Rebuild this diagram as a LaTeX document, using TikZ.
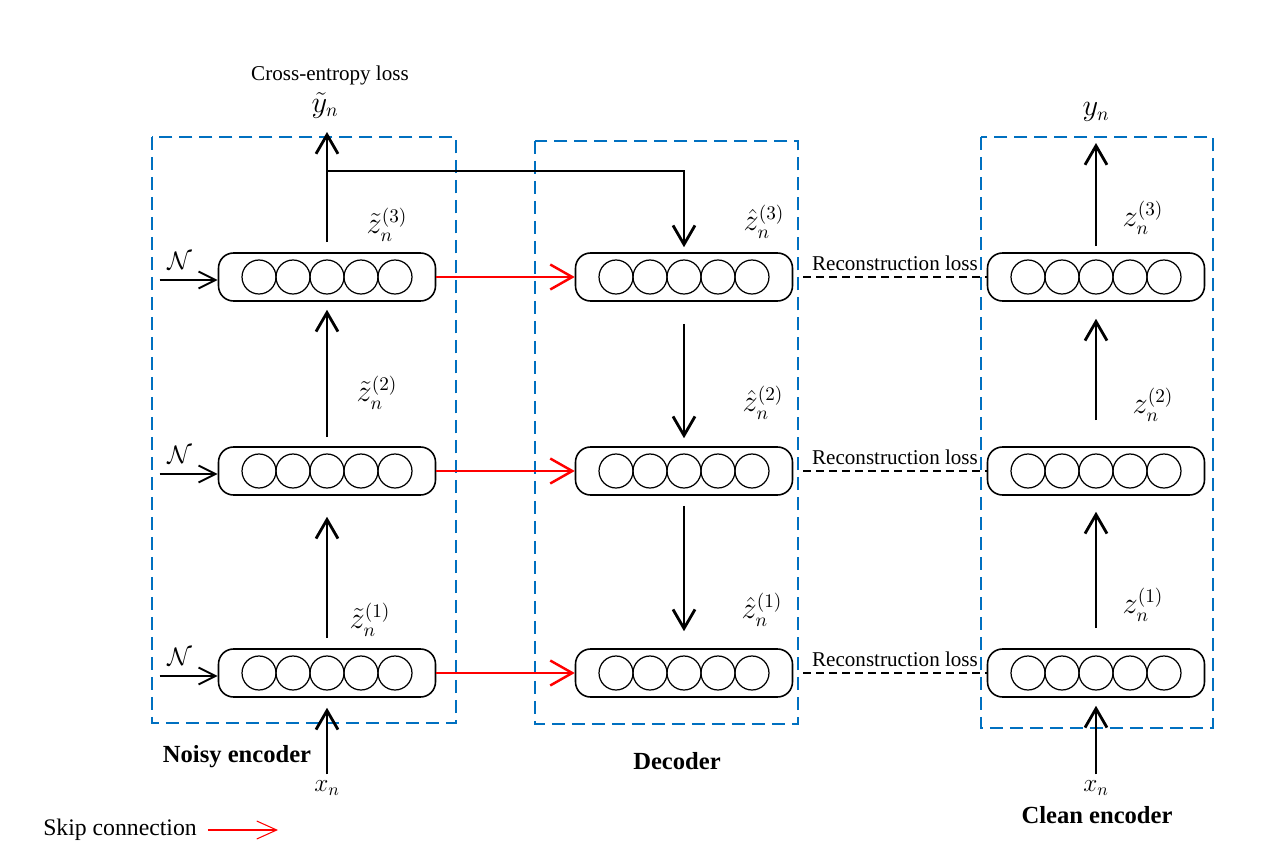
\documentclass[tikz,border=0pt]{standalone}
\usepackage{fontspec}
\setmainfont{Liberation Serif}
\usepackage{amsmath}
\usepackage{amssymb}
\usetikzlibrary{arrows.meta}
\definecolor{boxblue}{RGB}{0,112,192}
\tikzset{layer/.style={draw, rounded corners=0.3cm, minimum width=4.34cm, minimum height=0.96cm, line width=0.9pt}}
\tikzset{groupbox/.style={draw=boxblue, dash pattern=on 0.26cm off 0.14cm, line width=1.1pt}}
\tikzset{up/.style={-{Straight Barb[length=0.38cm,width=0.44cm]}, line width=1.6pt}}
\tikzset{skip/.style={-{Straight Barb[length=0.44cm,width=0.5cm]}, draw=red, line width=1.4pt}}
\tikzset{noise/.style={-{Straight Barb[length=0.34cm,width=0.34cm]}, line width=1.1pt}}
\tikzset{recon/.style={dash pattern=on 0.16cm off 0.1cm, line width=0.7pt}}
\tikzset{lbl/.style={font=\fontsize{16}{18}\selectfont}}
\tikzset{txt/.style={font=\fontsize{12}{14}\selectfont}}
\tikzset{heading/.style={font=\fontsize{14}{16}\selectfont\bfseries}}
\newcommand{\units}[1]{\foreach \k in {-2,...,2} \draw[line width=0.7pt] ([xshift=\k*0.68cm]#1.center) circle (0.34cm);}

\begin{document}
\begin{tikzpicture}[x=0.02cm, y=-0.02cm]
    \useasboundingbox (0,0) rectangle (1272,862);

    % dashed group boxes
    \draw[groupbox] (152,137) rectangle (456,723);
    \draw[groupbox] (535,141) rectangle (798,724);
    \draw[groupbox] (981,137) rectangle (1213,728);

    % noisy encoder
    \node[layer] (ne1) at (327,673) {};
    \node[layer] (ne2) at (327,471) {};
    \node[layer] (ne3) at (327,277) {};
    \units{ne1} \units{ne2} \units{ne3}

    % decoder
    \node[layer] (de1) at (684,673) {};
    \node[layer] (de2) at (684,471) {};
    \node[layer] (de3) at (684,277) {};
    \units{de1} \units{de2} \units{de3}

    % clean encoder
    \node[layer] (ce1) at (1096,673) {};
    \node[layer] (ce2) at (1096,471) {};
    \node[layer] (ce3) at (1096,277) {};
    \units{ce1} \units{ce2} \units{ce3}

    % noisy encoder arrows
    \node[font=\fontsize{14}{16}\selectfont] (xn) at (327,788) {$x_n$};
    \draw[up] (xn.north) -- ([yshift=-0.2cm]ne1.south);
    \draw[up] ([yshift=0.2cm]ne1.north) -- ([yshift=-0.42cm]ne2.south);
    \draw[up] ([yshift=0.18cm]ne2.north) -- ([yshift=-0.16cm]ne3.south);
    \node[lbl] (ytil) at (325,105) {$\tilde{y}_n$};
    \node[txt] (xent) at (330,75) {Cross-entropy loss};
    \coordinate (ytip) at (327,132);
    \coordinate (br) at (327,171);
    \draw[up] ([yshift=0.2cm]ne3.north) -- (ytip);
    \draw[up] (br) -| ([yshift=0.1cm]de3.north);

    \node[lbl] (zt1) at (370,620) {$\tilde{z}_n^{(1)}$};
    \node[lbl] (zt2) at (377,393) {$\tilde{z}_n^{(2)}$};
    \node[lbl] (zt3) at (387,225) {$\tilde{z}_n^{(3)}$};

    % noise inputs
    \draw[noise] ([xshift=-1.16cm,yshift=-0.06cm]ne1.west) -- ([yshift=-0.06cm]ne1.west);
    \draw[noise] ([xshift=-1.16cm,yshift=-0.06cm]ne2.west) -- ([yshift=-0.06cm]ne2.west);
    \draw[noise] ([xshift=-1.16cm,yshift=-0.06cm]ne3.west) -- ([yshift=-0.06cm]ne3.west);
    \node[font=\fontsize{15}{17}\selectfont] (nz1) at ([xshift=-0.76cm,yshift=0.32cm]ne1.west) {$\mathcal{N}$};
    \node[font=\fontsize{15}{17}\selectfont] (nz2) at ([xshift=-0.76cm,yshift=0.32cm]ne2.west) {$\mathcal{N}$};
    \node[font=\fontsize{15}{17}\selectfont] (nz3) at ([xshift=-0.76cm,yshift=0.32cm]ne3.west) {$\mathcal{N}$};

    % skip connections
    \draw[skip] (ne1.east) -- (de1.west);
    \draw[skip] (ne2.east) -- (de2.west);
    \draw[skip] (ne3.east) -- (de3.west);

    % decoder arrows
    \draw[up] ([yshift=-0.44cm]de3.south) -- ([yshift=0.16cm]de2.north);
    \draw[up] ([yshift=-0.2cm]de2.south) -- ([yshift=0.34cm]de1.north);
    \node[lbl] (zh1) at (762,610) {$\hat{z}_n^{(1)}$};
    \node[lbl] (zh2) at (763,403) {$\hat{z}_n^{(2)}$};
    \node[lbl] (zh3) at (764,222) {$\hat{z}_n^{(3)}$};

    % clean encoder arrows
    \node[font=\fontsize{14}{16}\selectfont] (xc) at (1096,788) {$x_n$};
    \draw[up] (xc.north) -- ([yshift=-0.16cm]ce1.south);
    \draw[up] ([yshift=0.4cm]ce1.north) -- ([yshift=-0.32cm]ce2.south);
    \draw[up] ([yshift=0.52cm]ce2.north) -- ([yshift=-0.34cm]ce3.south);
    \node[lbl] (yc) at (1096,112) {$y_n$};
    \coordinate (yctip) at (1096,143);
    \draw[up] ([yshift=0.12cm]ce3.north) -- (yctip);
    \node[lbl] (zc1) at (1143,605) {$z_n^{(1)}$};
    \node[lbl] (zc2) at (1153,405) {$z_n^{(2)}$};
    \node[lbl] (zc3) at (1143,218) {$z_n^{(3)}$};

    % reconstruction losses
    \draw[recon] ([xshift=0.2cm]de1.east) -- node[above, txt]{Reconstruction loss} (ce1.west);
    \draw[recon] ([xshift=0.2cm]de2.east) -- node[above, txt]{Reconstruction loss} (ce2.west);
    \draw[recon] ([xshift=0.2cm]de3.east) -- node[above, txt]{Reconstruction loss} (ce3.west);

    % titles
    \node[heading] (noisy) at (237,757) {Noisy encoder};
    \node[heading] (dec) at (677,761) {Decoder};
    \node[heading] (clean) at (1097,815) {Clean encoder};

    % legend
    \node[font=\fontsize{13.5}{15}\selectfont] (sk) at (120,830) {Skip connection};
    \coordinate (skend) at (278,830);
    \draw[-{Straight Barb[length=0.4cm,width=0.36cm]}, draw=red, line width=0.6pt] ([xshift=0.1cm]sk.east) -- (skend);
  \end{tikzpicture}
\end{document}
